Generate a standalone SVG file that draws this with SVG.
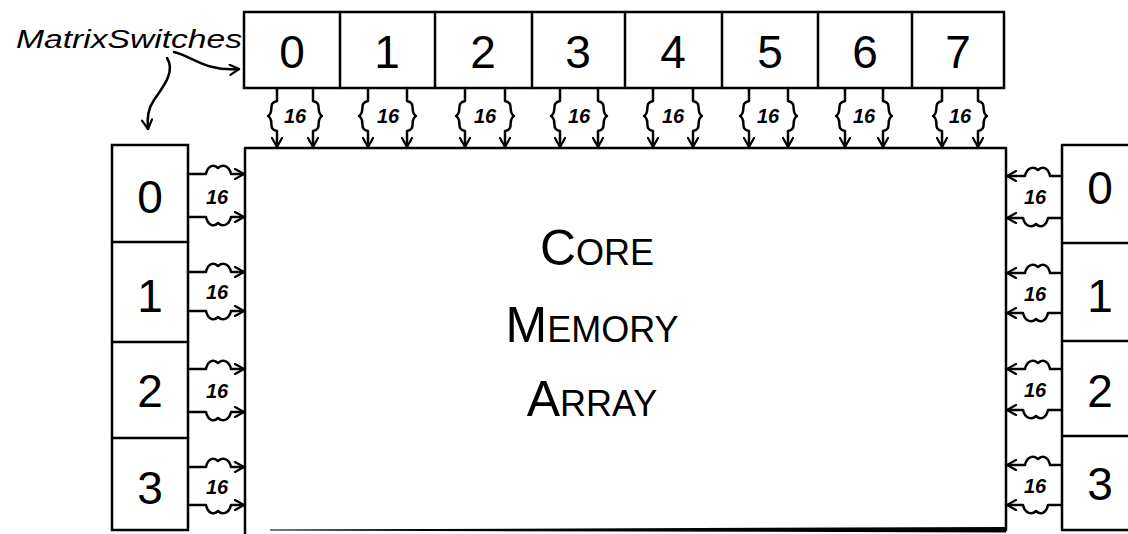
<svg xmlns="http://www.w3.org/2000/svg" width="1128" height="534" viewBox="0 0 1128 534">
<style>
.ln{fill:none;stroke:#000;stroke-width:2.5;stroke-linecap:round;stroke-linejoin:round}
.bx{fill:#fff;stroke:#000;stroke-width:2.5}
.dg{font-family:"Liberation Sans",Arial,sans-serif;font-size:46px;text-anchor:middle;fill:#000}
.lb{font-family:"Liberation Sans",Arial,sans-serif;font-size:20px;font-style:italic;font-weight:bold;text-anchor:middle;fill:#000}
.big{font-family:"Liberation Sans",Arial,sans-serif;font-size:50px;text-anchor:middle;fill:#000}
.ttl{font-family:"Liberation Sans",Arial,sans-serif;font-size:26px;font-style:italic;fill:#000}
</style>
<defs>
<marker id="ah" viewBox="0 0 12 12" refX="11" refY="6" markerWidth="12" markerHeight="12" markerUnits="userSpaceOnUse" orient="auto">
<path d="M2,1 L11,6 L2,11" fill="none" stroke="#000" stroke-width="2.2" stroke-linecap="round" stroke-linejoin="round"/>
</marker>
</defs>
<rect width="1128" height="534" fill="#fff"/>

<g id="title">
<text class="ttl" x="16" y="48" textLength="226" lengthAdjust="spacingAndGlyphs">MatrixSwitches</text>
</g>

<g id="core">
<path class="ln" d="M245,534 V148 H1006 V530"/>
<polygon points="270,529.5 1006,527 1006,532.5 270,530.5" fill="#000"/>
<text class="big" x="597" y="265">C<tspan font-size="36">ORE</tspan></text>
<text class="big" x="592" y="342">M<tspan font-size="36">EMORY</tspan></text>
<text class="big" x="592" y="416">A<tspan font-size="36">RRAY</tspan></text>
</g>

<g id="top-switches">
<rect class="bx" x="244" y="12" width="760" height="76"/>
<path class="ln" d="M340,12V88 M435,12V88 M532,12V88 M625,12V88 M722,12V88 M818,12V88 M912,12V88"/>
<text class="dg" x="292" y="68">0</text>
<text class="dg" x="387" y="68">1</text>
<text class="dg" x="483" y="68">2</text>
<text class="dg" x="578" y="68">3</text>
<text class="dg" x="673" y="68">4</text>
<text class="dg" x="770" y="68">5</text>
<text class="dg" x="865" y="68">6</text>
<text class="dg" x="958" y="68">7</text>
</g>

<g id="left-switches">
<rect class="bx" x="112" y="145" width="76" height="385"/>
<path class="ln" d="M112,242H188 M112,342H188 M112,438H188"/>
<text class="dg" x="150" y="213">0</text>
<text class="dg" x="150" y="312">1</text>
<text class="dg" x="150" y="407">2</text>
<text class="dg" x="150" y="504">3</text>
</g>

<g id="right-switches">
<path class="ln" d="M1130,145 H1062 V530 H1130 M1062,243H1130 M1062,341H1130 M1062,436H1130"/>
<text class="dg" x="1100" y="204">0</text>
<text class="dg" x="1100" y="312">1</text>
<text class="dg" x="1100" y="407">2</text>
<text class="dg" x="1100" y="500">3</text>
</g>

<g id="connectors">
<path class="ln" d="M174,52 C192,56 206,72 239,69" marker-end="url(#ah)"/>
<path class="ln" d="M167,58 C176,72 162,88 154,100 C147,110 147,120 148,129" marker-end="url(#ah)"/>

<path class="ln" d="M277,88V101 C267,103 275,112 268,116 C275,120 267,129 277,131 V147" marker-end="url(#ah)"/>
<path class="ln" d="M313,88V101 C323,103 315,112 322,116 C315,120 323,129 313,131 V147" marker-end="url(#ah)"/>
<path class="ln" d="M368,88V101 C358,103 366,112 359,116 C366,120 358,129 368,131 V147" marker-end="url(#ah)"/>
<path class="ln" d="M407,88V101 C417,103 409,112 416,116 C409,120 417,129 407,131 V147" marker-end="url(#ah)"/>
<path class="ln" d="M465,88V101 C455,103 463,112 456,116 C463,120 455,129 465,131 V147" marker-end="url(#ah)"/>
<path class="ln" d="M505,88V101 C515,103 507,112 514,116 C507,120 515,129 505,131 V147" marker-end="url(#ah)"/>
<path class="ln" d="M560,88V101 C550,103 558,112 551,116 C558,120 550,129 560,131 V147" marker-end="url(#ah)"/>
<path class="ln" d="M598,88V101 C608,103 600,112 607,116 C600,120 608,129 598,131 V147" marker-end="url(#ah)"/>
<path class="ln" d="M653,88V101 C643,103 651,112 644,116 C651,120 643,129 653,131 V147" marker-end="url(#ah)"/>
<path class="ln" d="M693,88V101 C703,103 695,112 702,116 C695,120 703,129 693,131 V147" marker-end="url(#ah)"/>
<path class="ln" d="M749,88V101 C739,103 747,112 740,116 C747,120 739,129 749,131 V147" marker-end="url(#ah)"/>
<path class="ln" d="M788,88V101 C798,103 790,112 797,116 C790,120 798,129 788,131 V147" marker-end="url(#ah)"/>
<path class="ln" d="M845,88V101 C835,103 843,112 836,116 C843,120 835,129 845,131 V147" marker-end="url(#ah)"/>
<path class="ln" d="M883,88V101 C893,103 885,112 892,116 C885,120 893,129 883,131 V147" marker-end="url(#ah)"/>
<path class="ln" d="M942,88V101 C932,103 940,112 933,116 C940,120 932,129 942,131 V147" marker-end="url(#ah)"/>
<path class="ln" d="M978,88V101 C988,103 980,112 987,116 C980,120 988,129 978,131 V147" marker-end="url(#ah)"/>
<text class="lb" x="295" y="123">16</text>
<text class="lb" x="388" y="123">16</text>
<text class="lb" x="485" y="123">16</text>
<text class="lb" x="579" y="123">16</text>
<text class="lb" x="673" y="123">16</text>
<text class="lb" x="768" y="123">16</text>
<text class="lb" x="864" y="123">16</text>
<text class="lb" x="960" y="123">16</text>

<path class="ln" d="M188,174 H206 C208,165 214,164 218,168 C222,164 229,165 231,174 H244" marker-end="url(#ah)"/>
<path class="ln" d="M188,217 H206 C208,226 214,227 218,223 C222,227 229,226 231,217 H244" marker-end="url(#ah)"/>
<path class="ln" d="M188,272 H206 C208,263 214,262 218,266 C222,262 229,263 231,272 H244" marker-end="url(#ah)"/>
<path class="ln" d="M188,311 H206 C208,320 214,321 218,317 C222,321 229,320 231,311 H244" marker-end="url(#ah)"/>
<path class="ln" d="M188,369 H206 C208,360 214,359 218,363 C222,359 229,360 231,369 H244" marker-end="url(#ah)"/>
<path class="ln" d="M188,412 H206 C208,421 214,422 218,418 C222,422 229,421 231,412 H244" marker-end="url(#ah)"/>
<path class="ln" d="M188,467 H206 C208,458 214,457 218,461 C222,457 229,458 231,467 H244" marker-end="url(#ah)"/>
<path class="ln" d="M188,505 H206 C208,514 214,515 218,511 C222,515 229,514 231,505 H244" marker-end="url(#ah)"/>
<text class="lb" x="217" y="204">16</text>
<text class="lb" x="217" y="299">16</text>
<text class="lb" x="217" y="398">16</text>
<text class="lb" x="217" y="494">16</text>

<path class="ln" d="M1062,176 H1050 C1048,167 1042,166 1038,170 C1034,166 1027,167 1025,176 H1007" marker-end="url(#ah)"/>
<path class="ln" d="M1062,218 H1048 C1046,227 1040,228 1036,224 C1032,228 1025,227 1023,218 H1007" marker-end="url(#ah)"/>
<path class="ln" d="M1062,273 H1050 C1048,264 1042,263 1038,267 C1034,263 1027,264 1025,273 H1007" marker-end="url(#ah)"/>
<path class="ln" d="M1062,313 H1048 C1046,322 1040,323 1036,319 C1032,323 1025,322 1023,313 H1007" marker-end="url(#ah)"/>
<path class="ln" d="M1062,369 H1050 C1048,360 1042,359 1038,363 C1034,359 1027,360 1025,369 H1007" marker-end="url(#ah)"/>
<path class="ln" d="M1062,410 H1048 C1046,419 1040,420 1036,416 C1032,420 1025,419 1023,410 H1007" marker-end="url(#ah)"/>
<path class="ln" d="M1062,465 H1050 C1048,456 1042,455 1038,459 C1034,455 1027,456 1025,465 H1007" marker-end="url(#ah)"/>
<path class="ln" d="M1062,505 H1048 C1046,514 1040,515 1036,511 C1032,515 1025,514 1023,505 H1007" marker-end="url(#ah)"/>
<text class="lb" x="1035" y="204">16</text>
<text class="lb" x="1035" y="301">16</text>
<text class="lb" x="1035" y="397">16</text>
<text class="lb" x="1035" y="493">16</text>
</g>
</svg>
